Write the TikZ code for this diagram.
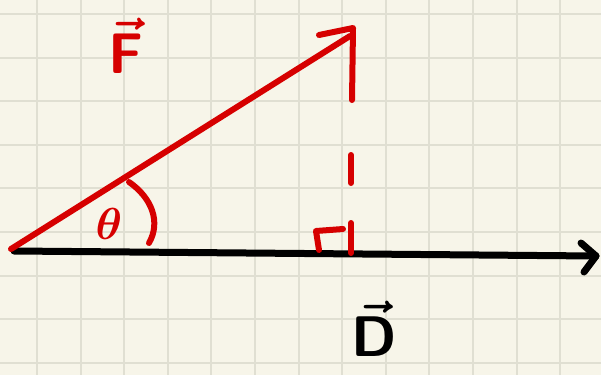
\documentclass[tikz,border=0pt]{standalone}
\usetikzlibrary{calc}
\definecolor{SkPaper}{RGB}{247,245,233}
\definecolor{SkGrid}{RGB}{224,223,210}
\definecolor{SkRed}{RGB}{214,0,0}
\definecolor{SkInk}{RGB}{0,0,0}
\tikzset{
  sk/grid/.style={draw=SkGrid, line width=2pt},
  sk/redpen/.style={draw=SkRed, line width=6pt, line cap=round, line join=round},
  sk/blackpen/.style={draw=SkInk, line width=7pt, line cap=round, line join=round},
  sk/label/.style={font=\Huge\boldmath, inner sep=0pt, transform shape, scale=2}
}
\begin{document}
\begin{tikzpicture}[x=1pt,y=-1pt]
  % paper and grid
  \fill[SkPaper] (0,0) rectangle (601,375);
  \useasboundingbox (0,0) rectangle (601,375);
  \begin{scope}
    \clip (0,0) rectangle (601,375);
    \foreach \gx in {0,...,13} \draw[sk/grid] ({37+43.6*\gx},0) -- ++(0,375);
    \foreach \gy in {0,...,8} \draw[sk/grid] (0,{14+43.6*\gy}) -- ++(601,0);
  \end{scope}

  % points
  \coordinate (O) at (11,249);
  \coordinate (Dstart) at (14,251);
  \coordinate (Dtip) at (596,256);
  \coordinate (Fend) at (350,36);
  \coordinate (Ftip) at (353,28);
  \coordinate (foot) at (351,253);

  % displacement D
  \draw[sk/blackpen] (Dstart) -- (Dtip);
  \draw[sk/blackpen] (581,243) -- (Dtip) -- (584,272);

  % force F
  \draw[sk/redpen] (O) -- (Fend);
  \draw[sk/redpen] (319,35) -- (Ftip) -- (352,100);
  \draw[sk/redpen] (351,155) -- (351,183);
  \draw[sk/redpen] (351,223) -- (foot);
  \draw[sk/redpen] (343,229) -- (316,231) -- (319,250);

  % angle
  \draw[sk/redpen] (129,182) .. controls (152,198) and (161,222) .. (149,243);

  % labels
  \node[sk/label, text=SkRed, scale=1.15] (Flabel) at (126,46) {$\vec{\mathsf{F}}$};
  \node[sk/label, text=SkRed, scale=0.9] (thlabel) at (109,224) {$\theta$};
  \node[sk/label, text=SkInk, scale=1.15] (Dlabel) at (374,329) {$\vec{\mathsf{D}}$};
\end{tikzpicture}
\end{document}
